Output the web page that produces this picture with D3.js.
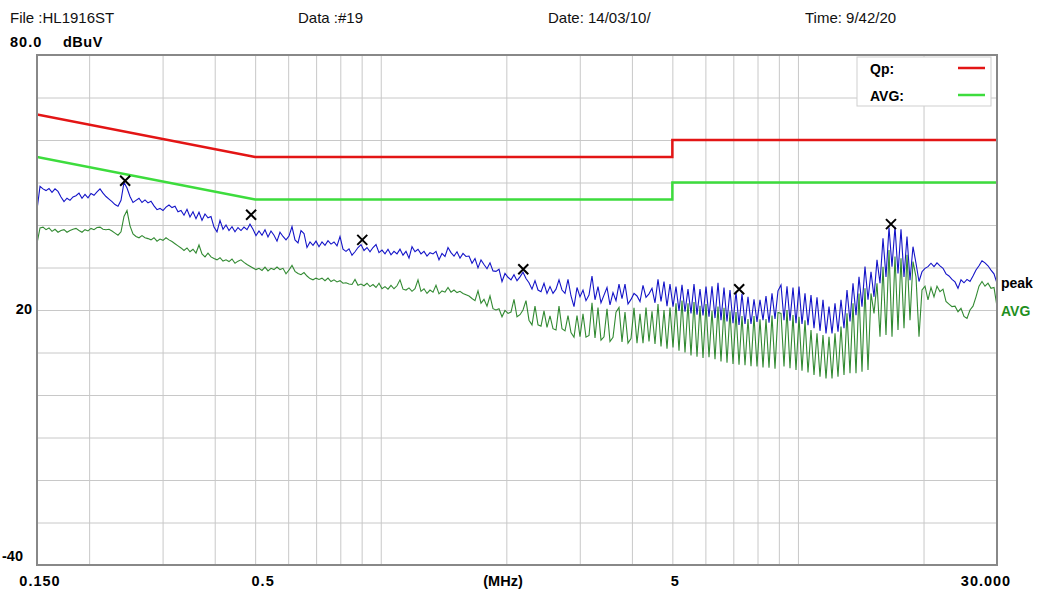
<!DOCTYPE html>
<html>
<head>
<meta charset="utf-8">
<script src="https://cdn.jsdelivr.net/npm/d3@7"></script>
<style>
  body { margin: 0; background: #fff; }
  svg { display: block; }
  text { font-family: "Liberation Sans", Arial, sans-serif; }
  .bold { font-weight: bold; }
</style>
</head>
<body>
<div id="chart"></div>
<script>
// receiver sweep, log spaced between these two frequencies (MHz)
const sweepStart = 0.15;
const sweepStop = 30;

// peak detector trace, dBuV, one value per sweep step
const peakValues = [
  43.6,49.1,48.5,48.1,48.6,47.7,48.5,47.9,46.6,45.5,
  46.3,45.8,46.6,46.9,47.5,46.3,47.2,46.4,47.4,47.0,
  47.8,48.5,47.5,46.7,46.1,45.5,44.8,44.4,45.8,50.0,
  48.7,46.7,45.3,45.8,46.3,45.3,45.9,45.2,45.6,44.5,
  43.6,43.9,43.4,44.2,44.7,44.1,44.4,43.1,43.4,42.3,
  43.7,41.9,43.1,41.5,43.0,41.1,42.6,41.7,42.0,39.5,
  38.4,41.1,39.0,40.0,38.7,39.6,38.4,39.4,38.7,39.5,
  38.9,40.2,39.0,37.5,38.6,37.6,38.9,37.2,38.6,37.6,
  36.2,38.3,37.3,36.5,
  37.4,39.6,36.5,35.8,38.7,38.0,34.7,36.0,35.2,36.2,
  34.9,36.0,35.2,36.3,35.5,36.0,35.1,37.3,34.3,33.8,
  34.4,32.9,33.7,34.7,35.4,34.0,34.7,33.7,34.7,35.4,
  33.5,34.1,33.2,34.3,33.0,33.8,33.2,34.3,32.9,33.8,
  32.2,34.9,33.7,34.3,33.2,33.8,32.7,33.5,33.2,33.8,
  31.8,33.3,32.6,34.7,33.5,32.7,33.7,32.2,33.3,32.6,
  32.7,31.0,32.1,29.9,31.8,30.7,29.7,31.1,29.2,29.1,
  29.6,26.7,28.6,27.7,27.1,28.3,26.9,27.8,28.9,27.4,
  26.4,24.9,26.9,
  24.7,24.3,26.3,23.9,25.5,23.9,24.9,27.1,24.7,23.9,
  27.2,23.3,20.8,25.3,23.1,24.7,22.2,23.5,28.0,22.4,
  25.5,21.7,23.5,25.3,21.2,24.1,22.2,26.1,22.7,26.1,
  21.4,22.5,23.9,23.3,22.0,25.8,23.0,23.8,25.1,21.7,
  27.2,22.0,26.7,20.9,26.1,20.8,25.5,19.8,25.9,19.6,
  24.9,19.2,26.1,18.9,24.9,18.7,25.5,18.4,25.6,18.1,
  26.4,17.6,25.3,17.3,24.7,16.9,24.3,16.5,23.8,16.7,
  23.1,16.7,22.5,17.2,22.4,17.6,23.3,17.0,23.9,17.9,
  24.5,
  25.9,17.6,25.6,17.5,25.3,16.9,25.5,16.7,23.9,16.4,
  23.5,15.7,23.0,15.1,22.4,14.5,20.8,14.5,21.6,14.9,
  22.4,15.7,24.7,17.3,26.3,18.8,27.8,20.8,30.2,22.4,
  29.0,23.1,31.8,26.3,36.9,27.8,39.4,30.2,39.6,28.6,
  39.0,27.8,37.3,27.0,34.9,31.0,26.7,29.0,29.8,30.2,
  31.0,30.2,31.1,30.4,29.8,28.5,28.0,27.2,26.6,25.1,
  27.1,26.4,27.2,26.7,28.0,29.4,30.4,31.6,31.1,30.4,
  29.4,28.5,26.3
];

// average detector trace, dBuV, same sweep steps
const avgValues = [
  35.7,39.3,39.5,38.9,39.3,38.5,39.0,38.3,38.7,38.9,
  38.3,38.7,39.0,39.2,38.7,38.3,38.9,38.6,39.2,38.9,
  39.4,39.5,39.0,38.9,39.0,38.6,38.1,37.6,38.4,42.0,
  43.4,39.8,37.9,37.3,37.0,37.5,37.0,36.8,36.5,37.0,
  36.2,36.7,36.4,37.0,36.5,36.1,35.6,35.1,34.6,34.0,
  34.6,33.7,34.3,33.4,35.3,33.2,32.5,33.4,32.5,32.1,
  31.8,32.3,31.5,31.8,31.4,32.0,31.0,31.5,31.8,31.2,
  30.7,30.3,29.9,29.5,29.8,29.3,30.1,29.2,29.8,29.5,
  30.1,29.5,29.8,28.5,
  29.4,30.5,29.1,28.6,28.3,28.8,28.0,27.4,27.1,27.5,
  27.2,27.5,26.9,27.5,26.7,27.1,26.6,26.9,26.3,26.4,
  26.1,26.0,27.2,25.8,26.1,25.7,26.3,25.5,26.0,25.3,
  26.3,25.0,25.5,24.9,25.8,25.0,25.7,27.1,24.9,24.7,
  25.2,24.4,25.0,27.1,24.4,25.0,23.9,24.7,24.2,25.8,
  23.8,24.5,24.2,25.3,24.2,24.7,24.1,24.4,23.9,23.6,
  23.3,22.7,22.2,24.5,21.6,22.5,20.9,23.3,20.3,20.0,
  20.3,18.4,19.9,19.2,19.5,22.5,18.4,18.9,20.0,22.2,
  17.6,16.5,20.9,
  16.5,16.2,19.8,15.9,18.6,15.6,15.3,20.9,15.6,15.1,
  18.7,14.7,13.6,18.7,13.7,19.1,13.6,14.0,21.7,13.4,
  20.6,12.9,13.7,20.3,12.6,13.6,19.5,20.6,12.5,19.5,
  12.2,13.3,20.5,12.2,19.1,12.2,20.6,12.6,19.7,12.0,
  21.4,11.4,20.0,10.9,20.6,11.2,21.6,10.4,22.2,10.0,
  21.6,9.3,21.9,9.0,21.0,8.7,21.4,8.9,19.8,8.4,
  20.8,7.9,20.5,7.6,19.7,7.3,19.5,7.1,18.6,7.0,
  17.9,6.8,18.6,6.7,17.8,6.5,17.9,6.4,18.7,6.2,
  19.4,
  19.2,6.7,20.0,6.3,18.8,5.9,18.4,5.7,17.6,5.3,
  15.3,4.7,14.5,4.3,14.1,3.9,13.7,3.9,14.5,4.3,
  16.1,4.7,19.2,5.1,21.6,5.1,23.9,5.5,25.1,5.9,
  23.9,19.2,26.3,13.7,30.2,14.1,34.1,13.7,32.6,15.3,
  32.2,15.7,33.0,17.6,31.4,27.8,13.7,24.7,25.6,22.4,
  25.3,23.1,25.6,24.3,24.9,22.0,21.4,20.8,20.9,19.6,
  20.4,18.5,18.0,20.0,20.9,23.1,25.6,26.7,25.6,26.3,
  25.1,25.3,20.8
];

// limit lines (CISPR 22 class B)
const limitFreqs = [0.15, 0.5, 0.5, 5, 5, 30];
const qpLimit = [66, 56, 56, 56, 60, 60];
const avgLimit = [56, 46, 46, 46, 50, 50];

// marked peaks
const markerFreqs = [0.244, 0.489, 0.903, 2.196, 7.23, 16.71];
const markerLevels = [50.4, 42.4, 36.5, 29.6, 24.9, 40.2];

// grid and labels
const gridFreqs = [0.2,0.3,0.4,0.5,0.6,0.7,0.8,0.9,1,2,3,4,5,6,7,8,9,10,20];
const gridLevels = [-30,-20,-10,0,10,20,30,40,50,60,70];
const xTickFreqs = [0.15, 0.5, 5, 30];
const xTickLabels = ["0.150", "0.5", "5", "30.000"];
const yTickLevels = [20, -40];
const yTickLabels = ["20", "-40"];
const header = ["File :HL1916ST", "Data :#19", "Date: 14/03/10/", "Time: 9/42/20"];

const W = 1040, H = 589;
const plot = { left: 37, right: 997, top: 55, bottom: 565 };

const svg = d3.select("#chart").append("svg")
  .attr("width", W).attr("height", H);

const x = d3.scaleLog().domain([sweepStart, sweepStop]).range([plot.left, plot.right]);
const y = d3.scaleLinear().domain([-40, 80]).range([plot.bottom, plot.top]);

const sweepFreq = (i, n) => sweepStart * Math.pow(sweepStop / sweepStart, i / (n - 1));
const peakData = peakValues.map((v, i) => [sweepFreq(i, peakValues.length), v]);
const avgData = avgValues.map((v, i) => [sweepFreq(i, avgValues.length), v]);

// grid
svg.append("g")
  .attr("transform", "translate(0," + plot.bottom + ")")
  .call(d3.axisBottom(x).tickValues(gridFreqs).tickSize(-(plot.bottom - plot.top)).tickFormat(""))
  .call(g => g.select(".domain").remove())
  .selectAll("line").attr("stroke", "#c8c8c8");

svg.append("g")
  .attr("transform", "translate(" + plot.left + ",0)")
  .call(d3.axisLeft(y).tickValues(gridLevels).tickSize(-(plot.right - plot.left)).tickFormat(""))
  .call(g => g.select(".domain").remove())
  .selectAll("line").attr("stroke", "#c8c8c8");

svg.append("clipPath").attr("id", "clip")
  .append("rect")
  .attr("x", plot.left).attr("y", plot.top)
  .attr("width", plot.right - plot.left).attr("height", plot.bottom - plot.top);

const line = d3.line().x(d => x(d[0])).y(d => y(d[1]));
const area = svg.append("g").attr("clip-path", "url(#clip)");

// limits
area.append("path")
  .attr("d", line(limitFreqs.map((f, i) => [f, qpLimit[i]])))
  .attr("fill", "none").attr("stroke", "#e31515").attr("stroke-width", 2.5);
area.append("path")
  .attr("d", line(limitFreqs.map((f, i) => [f, avgLimit[i]])))
  .attr("fill", "none").attr("stroke", "#3ddc3d").attr("stroke-width", 2.5);

// traces
area.append("path")
  .attr("d", line(peakData))
  .attr("fill", "none").attr("stroke", "#1414c8").attr("stroke-width", 1.1);
area.append("path")
  .attr("d", line(avgData))
  .attr("fill", "none").attr("stroke", "#1c7d1c").attr("stroke-width", 1.1)
  .attr("stroke-opacity", 0.9);

// markers
svg.append("g").selectAll("path")
  .data(markerFreqs)
  .enter().append("path")
  .attr("transform", (f, i) => "translate(" + x(f) + "," + y(markerLevels[i]) + ")")
  .attr("d", "M-5,-5L5,5M-5,5L5,-5")
  .attr("stroke", "#000").attr("stroke-width", 2);

// legend
const leg = svg.append("g");
leg.append("rect")
  .attr("x", 857).attr("y", 57).attr("width", 134).attr("height", 49)
  .attr("fill", "#fff").attr("stroke", "#cfcfcf");
leg.append("text").attr("class", "bold").attr("x", 870).attr("y", 74)
  .attr("font-size", 14).text("Qp:");
leg.append("text").attr("class", "bold").attr("x", 870).attr("y", 101)
  .attr("font-size", 14).text("AVG:");
leg.append("line").attr("x1", 958).attr("x2", 985).attr("y1", 68).attr("y2", 68)
  .attr("stroke", "#e31515").attr("stroke-width", 2.5);
leg.append("line").attr("x1", 958).attr("x2", 985).attr("y1", 95).attr("y2", 95)
  .attr("stroke", "#3ddc3d").attr("stroke-width", 2.5);

// frame
svg.append("rect")
  .attr("x", plot.left).attr("y", plot.top)
  .attr("width", plot.right - plot.left).attr("height", plot.bottom - plot.top)
  .attr("fill", "none").attr("stroke", "#888").attr("stroke-width", 2);

// header
const headerX = [10, 298, 548, 805];
svg.append("g").selectAll("text")
  .data(header).enter().append("text")
  .attr("x", (d, i) => headerX[i]).attr("y", 23)
  .attr("font-size", 15).attr("fill", "#111")
  .text(d => d);

svg.append("text").attr("class", "bold").attr("x", 10).attr("y", 47)
  .attr("font-size", 14.5).attr("letter-spacing", 1).text("80.0");
svg.append("text").attr("class", "bold").attr("x", 63).attr("y", 47)
  .attr("font-size", 14.5).attr("letter-spacing", 0.5).text("dBuV");

// y labels
svg.append("g").selectAll("text")
  .data(yTickLevels).enter().append("text")
  .attr("class", "bold")
  .attr("x", (d, i) => i === 0 ? 32 : 23)
  .attr("y", (d, i) => y(d) + (i === 0 ? 4 : -4))
  .attr("text-anchor", "end").attr("font-size", 14.5)
  .text((d, i) => yTickLabels[i]);

// x labels
svg.append("g").selectAll("text")
  .data(xTickFreqs).enter().append("text")
  .attr("class", "bold")
  .attr("x", (d, i) => x(d) + [3, 8, 3, -11][i])
  .attr("y", 586)
  .attr("text-anchor", "middle").attr("font-size", 14.5).attr("letter-spacing", 1)
  .text((d, i) => xTickLabels[i]);
svg.append("text").attr("class", "bold").attr("x", 503).attr("y", 586)
  .attr("text-anchor", "middle").attr("font-size", 14.5).text("(MHz)");

// trace names
svg.append("text").attr("class", "bold").attr("x", 1001).attr("y", 288)
  .attr("font-size", 14).text("peak");
svg.append("text").attr("class", "bold").attr("x", 1001).attr("y", 316)
  .attr("font-size", 14).attr("fill", "#1f8f1f").text("AVG");
</script>
</body>
</html>
